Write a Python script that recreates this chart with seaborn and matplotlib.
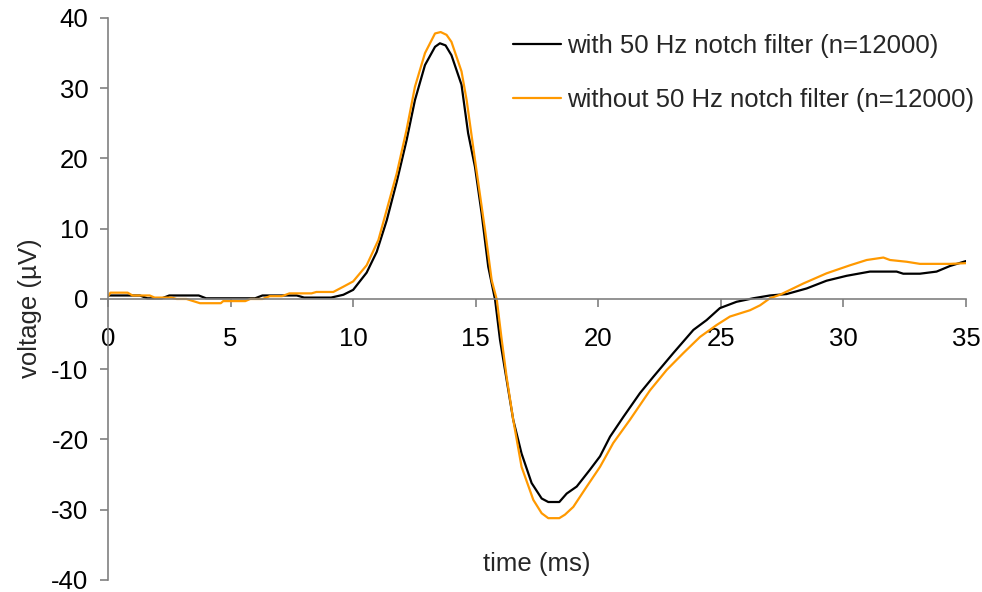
import matplotlib
matplotlib.use("Agg")
import matplotlib.pyplot as plt
import seaborn as sns

# time (ms) and voltage (uV)
t_with = [0, 0.5, 1.3, 1.6, 2.2, 2.5, 3.7, 4.0, 6.0, 6.3, 7.7, 8.0, 9.1, 9.6,
          10.0, 10.55, 10.96, 11.37, 11.78, 12.18, 12.52, 12.93, 13.34, 13.54,
          13.77, 14.01, 14.42, 14.69, 14.97, 15.24, 15.51, 15.79, 15.99, 16.26,
          16.53, 16.87, 17.28, 17.69, 17.96, 18.41, 18.71, 19.12, 19.66, 20.07,
          20.48, 21.02, 21.7, 22.24, 23.06, 23.88, 24.42, 24.96, 25.64, 26.32,
          27.0, 27.68, 28.5, 29.31, 30.13, 31.08, 32.17, 32.44, 33.12, 33.8,
          34.35, 35.0]
v_with = [0.5, 0.5, 0.5, 0.1, 0.1, 0.5, 0.5, 0.1, 0.1, 0.5, 0.5, 0.2, 0.2, 0.6,
          1.3, 3.75, 6.7, 11.2, 16.7, 22.6, 28.3, 33.3, 35.9, 36.4,
          36.1, 34.7, 30.5, 23.6, 18.8, 12.2, 4.6, -0.1, -5.8, -11.5,
          -17.2, -22.0, -26.2, -28.4, -28.9, -28.9, -27.7, -26.7, -24.3, -22.4,
          -19.6, -16.8, -13.4, -11.1, -7.7, -4.4, -3.0, -1.3, -0.4, 0.1,
          0.5, 0.7, 1.5, 2.6, 3.3, 3.9, 3.9, 3.6, 3.6, 3.9,
          4.7, 5.4]

t_without = [0, 0.1, 0.8, 1.0, 1.7, 1.9, 2.6, 2.8, 3.2, 3.75, 4.6, 4.7, 5.6, 5.8,
             6.3, 6.6, 7.1, 7.4, 8.3, 8.5, 9.19, 9.6, 10.0, 10.55, 11.03, 11.37,
             11.78, 12.18, 12.52, 12.93, 13.34, 13.57, 13.81, 14.01, 14.42, 14.63,
             14.97, 15.38, 15.65, 15.86, 16.06, 16.26, 16.53, 16.87, 17.35, 17.69,
             17.96, 18.41, 18.64, 18.98, 19.53, 20.07, 20.61, 21.29, 22.11, 22.79,
             23.47, 24.15, 24.83, 25.37, 26.19, 26.6, 27.0, 27.41, 28.36, 29.31,
             30.27, 30.95, 31.63, 31.9, 32.58, 33.12, 34.35, 35.0]
v_without = [0.4, 0.9, 0.9, 0.5, 0.5, 0.2, 0.2, 0.0, 0.0, -0.6, -0.6, -0.3, -0.3, 0.0,
             0.0, 0.4, 0.4, 0.8, 0.8, 1.0, 1.0, 1.75, 2.5, 4.8, 8.4, 12.7,
             17.9, 24.1, 30.2, 35.0, 37.8, 38.0, 37.6, 36.6, 32.4, 28.3,
             19.8, 9.8, 2.7, -0.1, -5.8, -11.1, -17.2, -23.9, -28.6, -30.5,
             -31.2, -31.2, -30.7, -29.6, -26.7, -23.9, -20.5, -17.2, -13.0, -10.1,
             -7.7, -5.4, -3.7, -2.5, -1.6, -0.9, 0.1, 0.6, 2.2, 3.65,
             4.8, 5.55, 5.9, 5.55, 5.3, 5.0, 5.0, 5.1]

labels = ["with 50 Hz notch filter (n=12000)", "without 50 Hz notch filter (n=12000)"]
x_ticks = [0, 5, 10, 15, 20, 25, 30, 35]
y_ticks = [-40, -30, -20, -10, 0, 10, 20, 30, 40]

sns.set_style("white")
plt.rcParams["font.family"] = ["Liberation Sans", "DejaVu Sans"]
plt.rcParams["axes.unicode_minus"] = False
fs = 18.5

fig = plt.figure(figsize=(9.82, 5.92), dpi=100)
ax = fig.add_axes([0.11, 0.0203, 0.8737, 0.9493])

sns.lineplot(x=t_with, y=v_with, color="black", lw=1.6, label=labels[0],
             estimator=None, sort=False, ax=ax)
sns.lineplot(x=t_without, y=v_without, color="#ff9900", lw=1.6, label=labels[1],
             estimator=None, sort=False, ax=ax)

ax.set_xlim(0, 35)
ax.set_ylim(-40, 40)
ax.set_xticks(x_ticks)
ax.set_yticks(y_ticks)

# axis style: x axis through zero, no box
axis_col = "#808080"
ax.spines["top"].set_visible(False)
ax.spines["right"].set_visible(False)
ax.spines["bottom"].set_position(("data", 0))
for s in ["left", "bottom"]:
    ax.spines[s].set_color(axis_col)
    ax.spines[s].set_linewidth(1.2)
ax.tick_params(axis="both", direction="out", length=6, width=1.2, color=axis_col,
               labelsize=fs, labelcolor="black")
ax.tick_params(axis="x", pad=14, bottom=True)
ax.tick_params(axis="y", pad=8, left=True)

ax.set_xlabel("time (ms)", fontsize=fs)
ax.set_ylabel("voltage (\u00b5V)", fontsize=fs)
ax.xaxis.set_label_coords(0.5, 0.05)
ax.yaxis.set_label_coords(-0.0775, 0.484)

ax.legend(loc="upper left", bbox_to_anchor=(0.472, 0.972), frameon=False,
          fontsize=fs, handlelength=1.85, handletextpad=0.27, labelspacing=1.18,
          borderpad=0, borderaxespad=0)

fig.savefig("out.png", dpi=100)
